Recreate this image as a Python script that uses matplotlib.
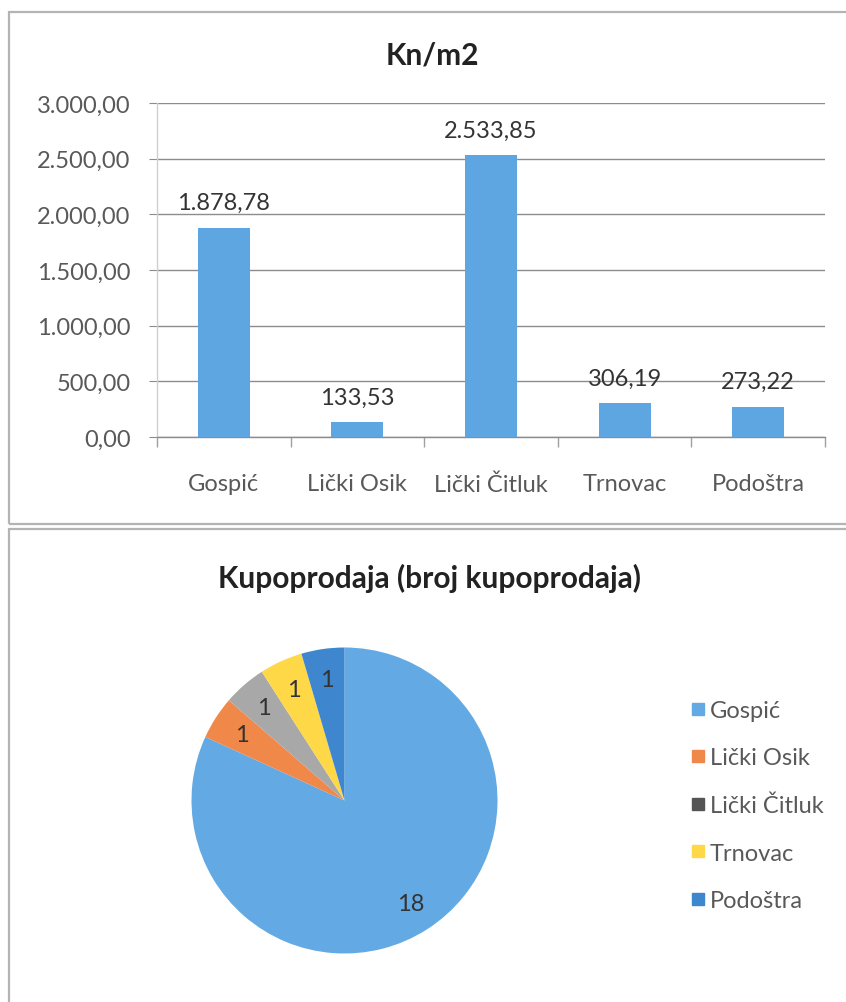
import matplotlib
matplotlib.use("Agg")
import matplotlib.pyplot as plt
from matplotlib.patches import Rectangle
from matplotlib.lines import Line2D
from matplotlib.ticker import FuncFormatter, MultipleLocator

plt.rcParams['font.family'] = ['Lato', 'DejaVu Sans']

# ---- data ----
places = ["Gospić", "Lički Osik", "Lički Čitluk", "Trnovac", "Podoštra"]
price_per_m2 = [1878.78, 133.53, 2533.85, 306.19, 273.22]
sales_count = [18, 1, 1, 1, 1]

bar_title = "Kn/m2"
pie_title = "Kupoprodaja (broj kupoprodaja)"

bar_color = "#5EA6E2"
pie_colors = ["#63A9E3", "#F0884A", "#A8A8A8", "#FFD848", "#3E87CF"]
legend_colors = ["#63A9E3", "#F0884A", "#555555", "#FFD848", "#3E87CF"]

FS = 17
TFS = 21.5


def eu(v, decimals=2):
    s = f"{v:,.{decimals}f}"
    return s.replace(",", "X").replace(".", ",").replace("X", ".")


W, H = 846, 1003
fig = plt.figure(figsize=(W / 100, H / 100), dpi=100)


def fx(px):
    return px / W


def fy(py):
    return 1 - py / H


# panel borders
for (x0, y0, x1, y1) in [(9, 13, 860, 525), (9, 530, 860, 1020)]:
    fig.add_artist(Rectangle((fx(x0), fy(y1)), fx(x1) - fx(x0), fy(y0) - fy(y1),
                             transform=fig.transFigure, fill=False,
                             edgecolor="#B4B4B4", linewidth=1.6, clip_on=False))

# ---- bar chart ----
axL, axR, axT, axB = 157, 825, 104, 438
ax = fig.add_axes([fx(axL), fy(axB), fx(axR) - fx(axL), fy(axT) - fy(axB)])
x = list(range(len(places)))
ax.bar(x, price_per_m2, width=0.39, color=bar_color, zorder=3)
ax.set_xlim(-0.5, len(places) - 0.5)
ax.set_ylim(0, 3000)
ax.yaxis.set_major_locator(MultipleLocator(500))
ax.yaxis.set_major_formatter(FuncFormatter(lambda v, p: eu(v)))
ax.grid(axis="y", color="#8C8C8C", linewidth=1.0, zorder=0)
for s in ["top", "right"]:
    ax.spines[s].set_visible(False)
ax.spines["left"].set_color("#D0D0D0")
ax.spines["left"].set_linewidth(1.0)
ax.spines["bottom"].set_color("#8C8C8C")
ax.spines["bottom"].set_linewidth(1.0)
ax.tick_params(axis="y", length=6, color="#8C8C8C", labelsize=FS,
               labelcolor="#595959", pad=13)
ax.set_xticks(x)
ax.set_xticklabels(places)
ax.tick_params(axis="x", length=0, labelsize=FS, labelcolor="#595959", pad=26)
ax.set_xticks([i + 0.5 for i in range(-1, len(places))], minor=True)
ax.tick_params(axis="x", which="minor", length=7, color="#A0A0A0", width=1.0)
for xi, v in zip(x, price_per_m2):
    ax.annotate(eu(v), (xi, v), xytext=(0, 18), textcoords="offset points",
                ha="center", va="center", fontsize=FS, color="#333333", zorder=4)
fig.text(fx(432), fy(55), bar_title, ha="center", va="center",
         fontsize=TFS, fontweight="bold", color="#222222")

# ---- pie chart ----
cx, cy, r = 344.5, 801.5, 153
pax = fig.add_axes([fx(cx - r), fy(cy + r), fx(2 * r), fy(cy - r) - fy(cy + r)])
wedges, texts = pax.pie(sales_count, colors=pie_colors, startangle=90,
                        counterclock=False, labels=[str(v) for v in sales_count],
                        labeldistance=0.8, radius=1.0,
                        textprops=dict(fontsize=FS, color="#333333"),
                        wedgeprops=dict(linewidth=0))
for t in texts:
    t.set_ha("center")
    t.set_va("center")
pax.set_xlim(-1, 1)
pax.set_ylim(-1, 1)
pax.set_aspect("equal")
pax.axis("off")

fig.text(fx(430), fy(578), pie_title, ha="center", va="center",
         fontsize=TFS, fontweight="bold", color="#222222")

handles = [Line2D([], [], marker="s", linestyle="none", markersize=8,
                  markerfacecolor=c, markeredgecolor=c) for c in legend_colors]
fig.legend(handles, places, loc="upper left", bbox_to_anchor=(fx(677), fy(689)),
           frameon=False, fontsize=FS, labelspacing=1.12, handletextpad=0.1,
           handlelength=0.8, borderpad=0, labelcolor="#595959")

fig.savefig("out.png", dpi=100)
